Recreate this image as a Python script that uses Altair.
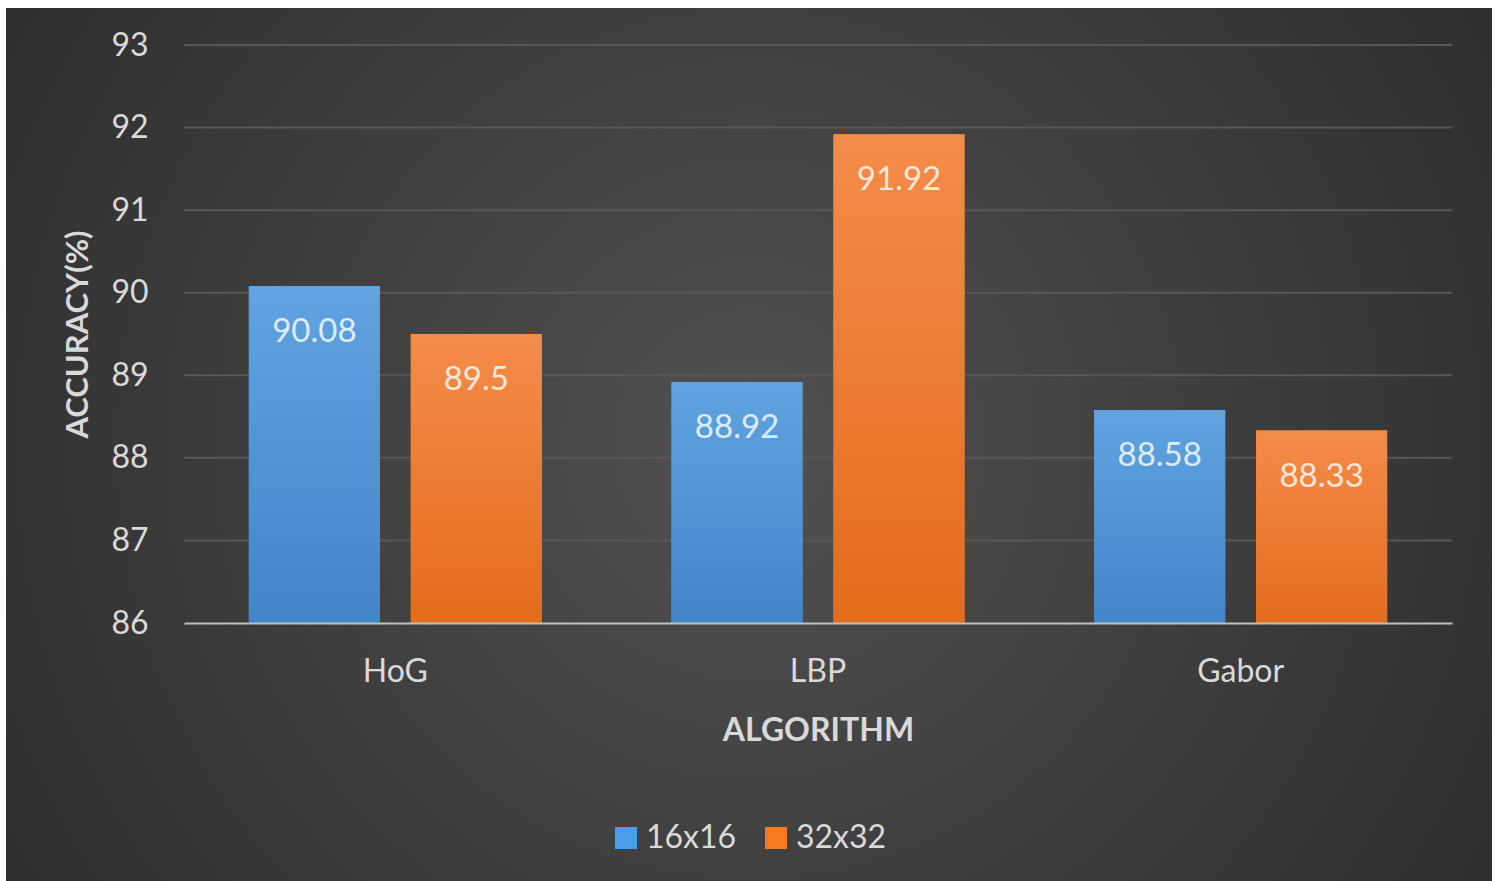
import altair as alt
import pandas as pd

# Accuracy (%) of each feature extractor at two image resolutions
algorithms = ["HoG", "LBP", "Gabor"]
sizes = ["16x16", "32x32"]
acc_16 = [90.08, 88.92, 88.58]
acc_32 = [89.5, 91.92, 88.33]
y_ticks = [86, 87, 88, 89, 90, 91, 92, 93]

rows = []
for alg, a16, a32 in zip(algorithms, acc_16, acc_32):
    rows.append({"algorithm": alg, "size": "16x16", "accuracy": a16, "label": str(a16)})
    rows.append({"algorithm": alg, "size": "32x32", "accuracy": a32, "label": str(a32)})
df = pd.DataFrame(rows)
grid_df = pd.DataFrame({"v": y_ticks[1:]})
bg_df = pd.DataFrame({"k": [0]})

W, H = 1268, 578
FONT = "Lato"
TXT = "#d9d9d9"
Y_MIN = y_ticks[0]

x_enc = alt.X(
    "algorithm:N",
    sort=algorithms,
    scale=alt.Scale(paddingInner=0.3068, paddingOuter=0.1534),
    axis=alt.Axis(
        title="ALGORITHM", labelAngle=0, ticks=False, grid=False,
        domain=True, domainColor="#bfbfbf", domainWidth=2,
        labelFontSize=32, labelColor=TXT, labelPadding=33,
        titleFontSize=32, titleFontWeight="bold", titleColor=TXT,
        titlePadding=28, zindex=1,
    ),
)
xoff_enc = alt.XOffset(
    "size:N", sort=sizes, scale=alt.Scale(domain=sizes, paddingInner=0.191, paddingOuter=0)
)
y_axis = alt.Axis(
    title="ACCURACY(%)", values=y_ticks, ticks=False, grid=False, domain=False,
    labelFontSize=32, labelColor=TXT, labelPadding=36,
    titleFontSize=31, titleFontWeight="bold", titleColor=TXT,
    titlePadding=16, zindex=1,
)
y_scale = alt.Scale(domain=[86, 93], nice=False, zero=False)

# Dark panel behind the whole figure, lighter towards the middle
background = alt.Chart(bg_df).mark_rect(
    fill=alt.RadialGradient(
        gradient="radial", x1=0.5, y1=0.5, r1=0, x2=0.5, y2=0.5, r2=0.72,
        stops=[alt.GradientStop(color="#515151", offset=0),
               alt.GradientStop(color="#262626", offset=1)],
    )
).encode(
    x=alt.value(-178), x2=alt.value(1308), y=alt.value(-37), y2=alt.value(836)
)

grid = alt.Chart(grid_df).mark_rule(color="#575757", strokeWidth=2).encode(
    y=alt.Y("v:Q", scale=y_scale, axis=y_axis)
)

base = alt.Chart(df).encode(
    x=x_enc,
    xOffset=xoff_enc,
    y=alt.Y("accuracy:Q", scale=y_scale, axis=y_axis),
)

solid = base.mark_bar().encode(
    y2=alt.datum(Y_MIN),
    color=alt.Color(
        "size:N",
        scale=alt.Scale(domain=sizes, range=["#4a9ee8", "#f77a1e"]),
        legend=alt.Legend(
            title=None, orient="none", direction="horizontal",
            legendX=426, legendY=777,
            symbolType="square", symbolSize=484, symbolStrokeWidth=0,
            labelFontSize=32, labelColor=TXT, labelOffset=4,
            columnPadding=23, zindex=1,
        ),
    ),
)


def shaded(size, top, bottom):
    return base.transform_filter(alt.datum.size == size).mark_bar(
        fill=alt.LinearGradient(
            gradient="linear", x1=0, y1=0, x2=0, y2=1,
            stops=[alt.GradientStop(color=top, offset=0),
                   alt.GradientStop(color=bottom, offset=1)],
        )
    ).encode(y2=alt.datum(Y_MIN))


blue_bars = shaded("16x16", "#60a3e0", "#4186c8")
orange_bars = shaded("32x32", "#f48c4a", "#e46c1b")

labels = base.mark_text(
    dy=46, baseline="middle", fontSize=33, font=FONT, color="#ffffff", opacity=0.8
).encode(text="label:N")

chart = alt.layer(
    background, grid, solid, blue_bars, orange_bars, labels
).properties(
    width=W, height=H,
    background="white",
    padding={"left": 6, "top": 8, "right": 10, "bottom": 0},
).configure(font=FONT).configure_view(stroke=None)

chart.save("out.html", embed_options={"renderer": "svg", "actions": False})
